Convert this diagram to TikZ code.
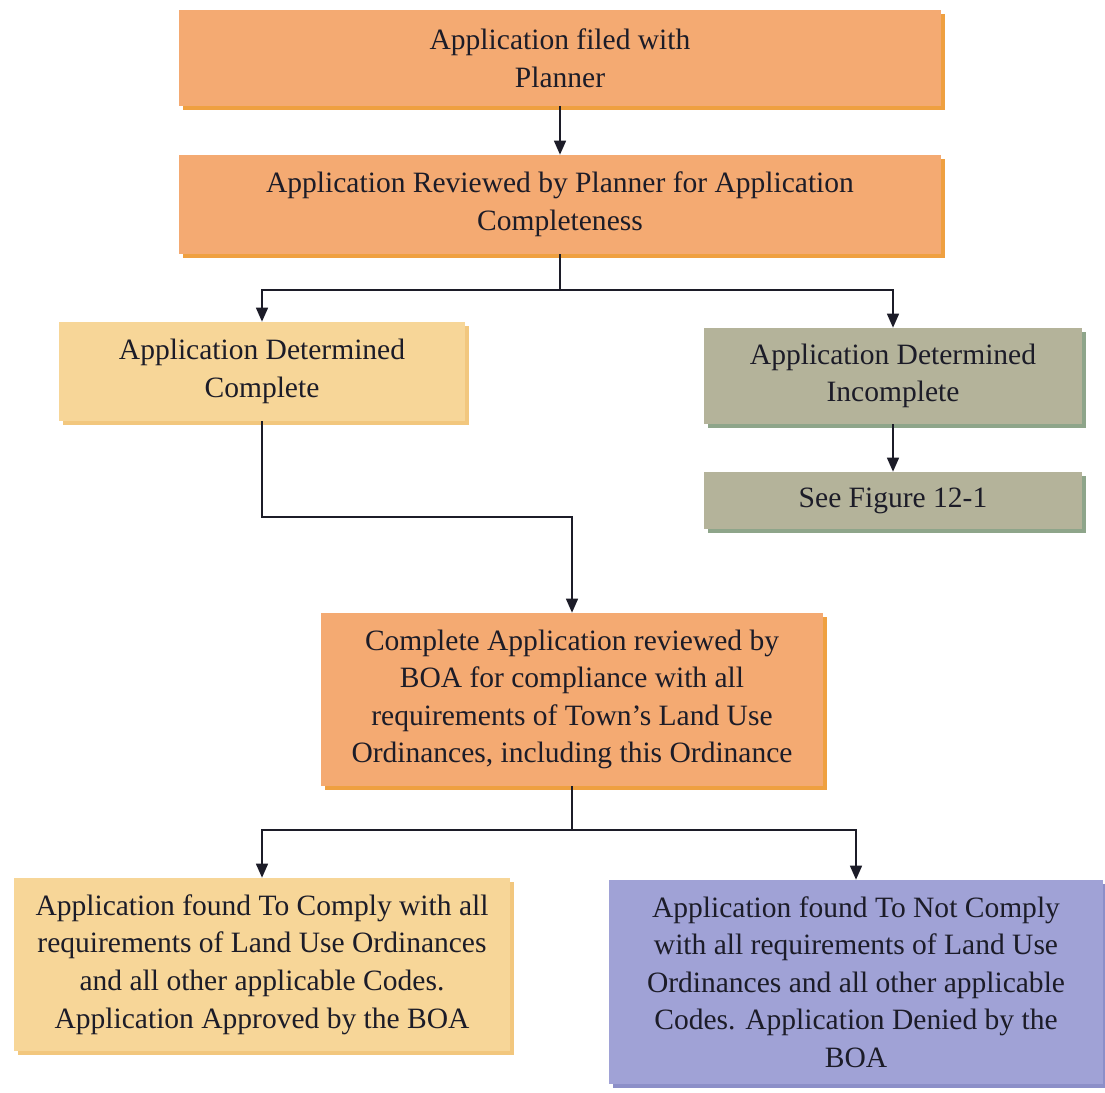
\documentclass[tikz,border=0pt]{standalone}
\usepackage{fontspec}
\setmainfont{Liberation Serif}
\usetikzlibrary{arrows.meta,shadows}

\definecolor{orfill}{HTML}{F4AA72}
\definecolor{orshade}{HTML}{EFA040}
\definecolor{yefill}{HTML}{F7D698}
\definecolor{yeshade}{HTML}{F2C77E}
\definecolor{grfill}{HTML}{B4B39A}
\definecolor{grshade}{HTML}{8EA58A}
\definecolor{lvfill}{HTML}{A0A2D6}
\definecolor{lvshade}{HTML}{8C8FC8}
\definecolor{inktext}{HTML}{1C1C28}

\begin{document}
\begin{tikzpicture}[x=0.02cm, y=-0.02cm,
	box/.style = {rectangle, inner sep=0pt, align=center, text=inktext,
		font=\fontsize{16.8}{21.4}\selectfont},
	orbox/.style = {box, fill=orfill, drop shadow={shadow xshift=0.08cm, shadow yshift=-0.08cm, fill=orshade, opacity=1}},
	yebox/.style = {box, fill=yefill, drop shadow={shadow xshift=0.08cm, shadow yshift=-0.08cm, fill=yeshade, opacity=1}},
	grbox/.style = {box, fill=grfill, drop shadow={shadow xshift=0.08cm, shadow yshift=-0.08cm, fill=grshade, opacity=1}},
	lvbox/.style = {box, fill=lvfill, drop shadow={shadow xshift=0.08cm, shadow yshift=-0.08cm, fill=lvshade, opacity=1}},
	arr/.style = {line width=0.85pt, draw=inktext, -{Triangle[length=0.28cm, width=0.24cm]}},
	link/.style = {line width=0.85pt, draw=inktext}]
	
	\useasboundingbox (0,0) rectangle (1105,1092);
	
	\node[orbox, minimum width=15.26cm, minimum height=1.92cm] (filed) at (560, 58) {Application filed with\\Planner};
	\node[orbox, minimum width=15.26cm, minimum height=1.98cm] (review) at (560, 204.5) {Application Reviewed by Planner for Application\\Completeness};
	
	\node[yebox, minimum width=8.14cm, minimum height=1.98cm] (complete) at (262, 371.5) {Application Determined\\Complete};
	\node[grbox, minimum width=7.58cm, minimum height=1.92cm] (incomplete) at (893, 376) {Application Determined\\Incomplete};
	\node[grbox, minimum width=7.58cm, minimum height=1.14cm] (seefig) at (893, 500.5) {See Figure 12-1};
	
	\node[orbox, minimum width=10.06cm, minimum height=3.46cm] (boa) at (572, 699.5) {Complete Application reviewed by\\BOA for compliance with all\\requirements of Town’s Land Use\\Ordinances, including this Ordinance};
	
	\node[yebox, minimum width=9.94cm, minimum height=3.46cm] (comply) at (262, 964.5) {Application found To Comply with all\\requirements of Land Use Ordinances\\and all other applicable Codes.\\Application Approved by the BOA};
	\node[lvbox, minimum width=9.88cm, minimum height=4.08cm] (deny) at (856, 982) {Application found To Not Comply\\with all requirements of Land Use\\Ordinances and all other applicable\\Codes. Application Denied by the\\BOA};
	
	\coordinate (split1) at (560, 290);
	\coordinate (join) at (572, 517);
	\coordinate (split2) at (572, 830);
	
	\draw[arr] (filed) -- (review);
	\draw[link] (review.south) -- (split1);
	\draw[arr] (split1) -| (complete.north);
	\draw[arr] (split1) -| (incomplete.north);
	\draw[arr] (incomplete) -- (seefig);
	\draw[arr] (complete.south) |- (join) -| (boa.north);
	\draw[link] (boa.south) -- (split2);
	\draw[arr] (split2) -| (comply.north);
	\draw[arr] (split2) -| (deny.north);
\end{tikzpicture}
\end{document}
